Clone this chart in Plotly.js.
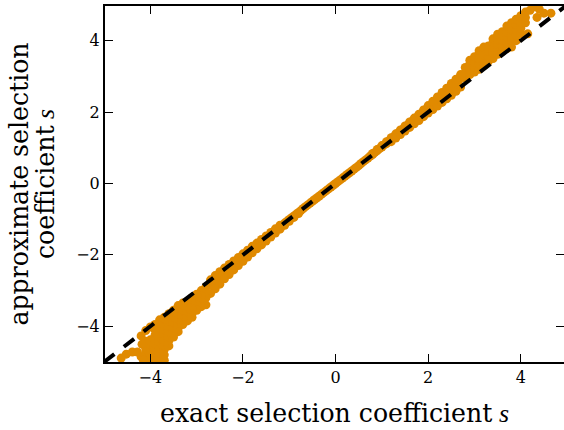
<!DOCTYPE html>
<html><head><meta charset="utf-8">
<script src="https://cdn.plot.ly/plotly-3.0.1.min.js"></script>
<style>html,body{margin:0;padding:0;background:#fff}</style></head>
<body><div id="chart" style="width:564px;height:430px"></div>
<script>
const exactMid = [-2.6,-2.5,-2.4,-2.3,-2.2,-2.1,-2.0,-1.9,-1.8,-1.7,-1.6,-1.5,-1.4,-1.3,-1.2,-1.1,-1.0,-0.9,-0.8,-0.7,-0.6,-0.5,-0.4,-0.3,-0.2,-0.1,0,0.1,0.2,0.3,0.4,0.5,0.6,0.7,0.8,0.9,1.0,1.1,1.2,1.3,1.4,1.5,1.6,1.7,1.8,1.9,2.0,2.1,2.2,2.3,2.4,2.5,2.6];
const approxMid = [-2.74,-2.62,-2.5,-2.39,-2.28,-2.16,-2.06,-1.95,-1.85,-1.74,-1.63,-1.53,-1.42,-1.32,-1.22,-1.11,-1.01,-0.91,-0.81,-0.7,-0.6,-0.5,-0.4,-0.3,-0.2,-0.1,0,0.1,0.2,0.3,0.4,0.5,0.61,0.71,0.81,0.92,1.02,1.12,1.23,1.33,1.44,1.55,1.65,1.76,1.87,1.97,2.07,2.2,2.31,2.42,2.54,2.65,2.76];
const exactHalf = [-2.65,-2.55,-2.45,-2.35,-2.25,-2.15,-2.05,-1.95,-1.85,-1.75,-1.65,-1.55,-1.45,-1.35,-1.25,-1.15,-1.05,-0.95,-0.85,-0.75,-0.65,-0.55,-0.45,-0.35,-0.25,-0.15,-0.05,0.05,0.15,0.25,0.35,0.45,0.55,0.65,0.75,0.85,0.95,1.05,1.15,1.25,1.35,1.45,1.55,1.65,1.75,1.85,1.95,2.05,2.15,2.25,2.35,2.45,2.55,2.65];
const approxHalf = [-2.86,-2.75,-2.62,-2.5,-2.38,-2.27,-2.15,-2.03,-1.92,-1.81,-1.7,-1.59,-1.48,-1.37,-1.27,-1.17,-1.06,-0.96,-0.86,-0.76,-0.65,-0.55,-0.45,-0.35,-0.25,-0.15,-0.05,0.05,0.15,0.25,0.35,0.45,0.56,0.66,0.77,0.87,0.98,1.08,1.19,1.3,1.41,1.52,1.63,1.74,1.85,1.96,2.07,2.14,2.26,2.37,2.48,2.6,2.72,2.84];
const exactShoulderPos = [0.8,0.9,1.0,1.1,1.2,1.2,1.3,1.3,1.4,1.4,1.5,1.5,1.6,1.6,1.7,1.7,1.8,1.8,1.9,1.9,2.0,2.0,2.1,2.1,2.2,2.2,2.3,2.3,2.4,2.4,2.5,2.5,2.6,2.6,2.7,2.7];
const approxShoulderPos = [0.84,0.95,1.06,1.17,1.28,1.17,1.39,1.27,1.5,1.37,1.61,1.47,1.72,1.57,1.83,1.67,1.94,1.76,2.06,1.87,2.18,1.97,2.3,2.07,2.42,2.17,2.55,2.27,2.67,2.37,2.8,2.47,2.92,2.58,3.05,2.7];
const exactShoulderNeg = [-0.8,-0.9,-1.0,-1.1,-1.2,-1.2,-1.3,-1.3,-1.4,-1.4,-1.5,-1.5,-1.6,-1.6,-1.7,-1.7,-1.8,-1.8,-1.9,-1.9,-2.0,-2.0,-2.1,-2.1,-2.2,-2.2,-2.3,-2.3,-2.4,-2.4,-2.5,-2.5,-2.6,-2.6,-2.7,-2.7];
const approxShoulderNeg = [-0.84,-0.95,-1.06,-1.17,-1.28,-1.17,-1.39,-1.27,-1.5,-1.37,-1.61,-1.47,-1.72,-1.57,-1.83,-1.67,-1.94,-1.76,-2.06,-1.87,-2.18,-1.97,-2.3,-2.07,-2.42,-2.17,-2.55,-2.27,-2.67,-2.37,-2.82,-2.47,-2.95,-2.58,-3.08,-2.7];
const exactHigh = [2.8,2.8,2.8,2.9,2.9,2.9,2.9,3.0,3.0,3.0,3.0,3.1,3.1,3.1,3.1,3.1,3.2,3.2,3.2,3.2,3.2,3.3,3.3,3.3,3.3,3.4,3.4,3.4,3.4,3.4,3.5,3.5,3.5,3.5,3.5,3.6,3.6,3.6,3.6,3.6,3.7,3.7,3.7,3.7,3.7,3.8,3.8,3.8,3.8,3.8,3.9,3.9,3.9,3.9,3.9,4.0,4.0,4.0,4.0,4.1,4.1,4.1,4.2,4.28,4.35,4.4,4.5,4.65,4.15];
const approxHigh = [2.95,3.1,3.25,3.05,3.2,3.35,3.45,3.12,3.25,3.4,3.55,3.2,3.35,3.5,3.65,3.72,3.3,3.45,3.6,3.75,3.82,3.42,3.55,3.7,3.85,3.5,3.65,3.8,3.95,4.05,3.62,3.75,3.9,4.05,4.18,3.7,3.85,4.0,4.15,4.25,3.78,3.95,4.1,4.25,4.41,3.82,4.0,4.15,4.3,4.5,4.0,4.15,4.3,4.45,4.6,4.2,4.35,4.5,4.7,4.5,4.65,4.8,4.85,4.95,4.65,4.88,4.77,4.77,4.19];
const exactLow = [-2.8,-2.8,-2.8,-2.8,-2.9,-2.9,-2.9,-2.9,-3.0,-3.0,-3.0,-3.0,-3.1,-3.1,-3.1,-3.1,-3.1,-3.2,-3.2,-3.2,-3.2,-3.2,-3.3,-3.3,-3.3,-3.3,-3.3,-3.4,-3.4,-3.4,-3.4,-3.4,-3.4,-3.5,-3.5,-3.5,-3.5,-3.5,-3.5,-3.6,-3.6,-3.6,-3.6,-3.6,-3.6,-3.6,-3.7,-3.7,-3.7,-3.7,-3.7,-3.7,-3.7,-3.7,-3.7,-3.8,-3.8,-3.8,-3.8,-3.8,-3.8,-3.8,-3.8,-3.8,-3.9,-3.9,-3.9,-3.9,-3.9,-3.9,-3.9,-3.9,-4.0,-4.0,-4.0,-4.0,-4.0,-4.0,-4.1,-4.1,-4.1,-4.1,-4.1,-4.1,-4.18,-4.2,-4.2,-4.15,-4.39,-4.52,-4.63,-4.28];
const approxLow = [-2.9,-3.05,-3.2,-3.4,-3.0,-3.15,-3.3,-3.45,-3.1,-3.25,-3.4,-3.55,-3.2,-3.35,-3.5,-3.65,-3.75,-3.3,-3.45,-3.6,-3.75,-3.85,-3.35,-3.5,-3.65,-3.8,-3.95,-3.42,-3.6,-3.75,-3.9,-4.05,-4.15,-3.55,-3.7,-3.85,-4.0,-4.15,-4.3,-3.65,-3.8,-3.95,-4.1,-4.25,-4.4,-4.55,-3.75,-3.9,-4.05,-4.2,-4.35,-4.5,-4.65,-4.8,-4.95,-3.82,-4.0,-4.15,-4.3,-4.45,-4.6,-4.75,-4.9,-5.0,-3.95,-4.1,-4.25,-4.38,-4.5,-4.65,-4.8,-4.95,-4.02,-4.38,-4.55,-4.7,-4.85,-5.0,-4.12,-4.42,-4.62,-4.8,-4.95,-4.72,-4.5,-4.27,-4.85,-4.95,-4.72,-4.78,-4.89,-4.72];
const identityLine = [-5,5];
const tickValues = [-4,-2,0,2,4];
const tickLabels = ['−4','−2','0','2','4'];
const sGlyph = '<span style="font-family:\'Liberation Serif\';font-style:italic;font-size:26px"> s</span>';
const xTitle = 'exact selection coefficient' + sGlyph;
const yTitle = 'approximate selection';
const yTitleSecond = 'coefficient' + sGlyph;

const serif = '"DejaVu Serif", serif';
const titleFont = {family: serif, size: 25.2, color: '#000'};
const axisBase = {
  tickvals: tickValues, ticktext: tickLabels, ticks: 'inside', ticklen: 8, tickwidth: 1, tickcolor: '#000',
  showline: true, linewidth: 2, linecolor: '#000', mirror: 'ticks', showgrid: false, zeroline: false,
  tickfont: {family: serif, size: 16, color: '#000'}
};
Plotly.newPlot('chart', [
  {x: exactMid.concat(exactHalf, exactShoulderPos, exactShoulderNeg, exactHigh, exactLow),
   y: approxMid.concat(approxHalf, approxShoulderPos, approxShoulderNeg, approxHigh, approxLow),
   mode: 'markers', type: 'scatter', marker: {size: 9, color: '#e08a00', line: {width: 0}}, hoverinfo: 'skip'},
  {x: identityLine, y: identityLine, mode: 'lines', type: 'scatter',
   line: {color: '#000', width: 4, dash: '13px,12px'}, hoverinfo: 'skip'}
], {
  width: 564, height: 430, showlegend: false, paper_bgcolor: '#fff', plot_bgcolor: '#fff',
  margin: {l: 105, r: 0, t: 6, b: 67.5},
  xaxis: Object.assign({}, axisBase, {range: [-4.98, 4.933], title: {text: xTitle, font: titleFont, standoff: 18}}),
  yaxis: Object.assign({}, axisBase, {range: [-5.0, 4.97], title: {text: yTitle, font: titleFont, standoff: 40}}),
  annotations: [{text: yTitleSecond, xref: 'paper', yref: 'paper', x: 0, y: 0.5, xanchor: 'center', yanchor: 'middle',
    xshift: -60, yshift: 0, textangle: -90, showarrow: false, font: titleFont}]
}, {displayModeBar: false, staticPlot: true});
</script></body></html>
